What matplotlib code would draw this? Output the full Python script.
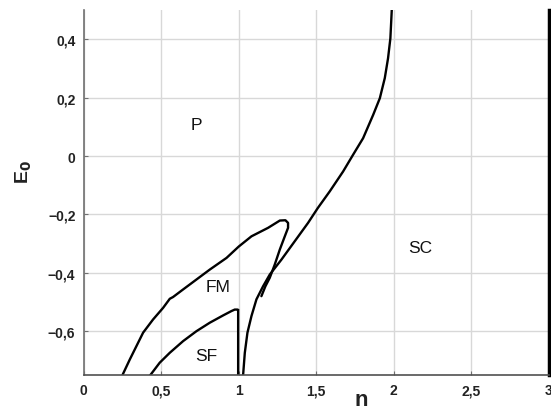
import matplotlib
matplotlib.use("Agg")
import matplotlib.pyplot as plt
from matplotlib.ticker import FuncFormatter

plt.rcParams['font.family'] = ['Liberation Sans', 'DejaVu Sans']

# FM boundary (n, E0)
fm_n = [0.25, 0.297, 0.34, 0.383, 0.447, 0.512, 0.555, 0.576, 0.641, 0.727, 0.813, 0.921,
        1.0, 1.082, 1.189, 1.265, 1.301, 1.318, 1.318, 1.297, 1.265, 1.232, 1.2, 1.172, 1.146]
fm_e = [-0.75, -0.697, -0.651, -0.605, -0.56, -0.52, -0.489, -0.483, -0.457, -0.423, -0.389, -0.349,
        -0.31, -0.275, -0.246, -0.221, -0.22, -0.229, -0.246, -0.275, -0.32, -0.372, -0.417, -0.446, -0.48]

# SF boundary
sf_n = [0.43, 0.49, 0.555, 0.641, 0.727, 0.813, 0.899, 0.953, 0.974, 0.991, 0.996, 0.996]
sf_e = [-0.75, -0.708, -0.674, -0.634, -0.6, -0.571, -0.546, -0.531, -0.526, -0.526, -0.527, -0.75]

# SC boundary
sc_n = [1.028, 1.039, 1.056, 1.082, 1.114, 1.157, 1.2, 1.275, 1.361, 1.447, 1.51, 1.587,
        1.673, 1.737, 1.802, 1.867, 1.91, 1.942, 1.963, 1.978, 1.987]
sc_e = [-0.75, -0.674, -0.605, -0.548, -0.491, -0.446, -0.406, -0.355, -0.292, -0.229, -0.178, -0.121,
        -0.053, 0.004, 0.061, 0.141, 0.198, 0.267, 0.335, 0.403, 0.5]

# Region labels
region_names = ['P', 'FM', 'SF', 'SC']
region_n = [0.727, 0.867, 0.79, 2.168]
region_e = [0.107, -0.448, -0.685, -0.315]

x_ticks = [0, 0.5, 1, 1.5, 2, 2.5, 3]
y_ticks = [-0.6, -0.4, -0.2, 0, 0.2, 0.4]

fig = plt.figure(figsize=(5.51, 4.10), dpi=100)
ax = fig.add_axes([0.152, 0.083, 0.844, 0.89])

lw = 1.7
ax.plot(fm_n, fm_e, color='black', lw=lw, solid_joinstyle='round', solid_capstyle='round')
ax.plot(sf_n, sf_e, color='black', lw=lw, solid_joinstyle='miter')
ax.plot(sc_n, sc_e, color='black', lw=lw, solid_joinstyle='round', solid_capstyle='round')

for name, xn, ye in zip(region_names, region_n, region_e):
    ax.text(xn, ye, name, ha='center', va='center', fontsize=12.5, color='#111111')

ax.set_xlim(0, 3)
ax.set_ylim(-0.75, 0.5)
ax.set_xticks(x_ticks)
ax.set_yticks(y_ticks)

def fmt(v, pos):
    s = f"{v:g}".replace('.', ',')
    return s.replace('-', '\u2212')

ax.xaxis.set_major_formatter(FuncFormatter(fmt))
ax.yaxis.set_major_formatter(FuncFormatter(fmt))

ax.grid(True, color='#d8d8d8', lw=1.0)
ax.set_axisbelow(True)

ax.spines['top'].set_visible(False)
ax.spines['left'].set_color('#707070')
ax.spines['bottom'].set_color('#505050')
ax.spines['left'].set_linewidth(1.2)
ax.spines['bottom'].set_linewidth(1.2)
ax.spines['right'].set_color('black')
ax.spines['right'].set_linewidth(2.5)

ax.tick_params(direction='in', length=3, width=0.8, colors='#707070',
               labelcolor='#222222', labelsize=10, pad=6)
for lab in ax.get_xticklabels() + ax.get_yticklabels():
    lab.set_fontweight('bold')

ax.set_xlabel('n', fontsize=16, fontweight='bold', color='#222222', va='center')
ax.xaxis.set_label_coords(0.596, -0.066)
ax.set_ylabel('E$_\\mathbf{0}$', fontsize=14, fontweight='bold', color='#222222', va='center')
ax.yaxis.set_label_coords(-0.128, 0.56)

fig.savefig('out.png', dpi=100, facecolor='white')
